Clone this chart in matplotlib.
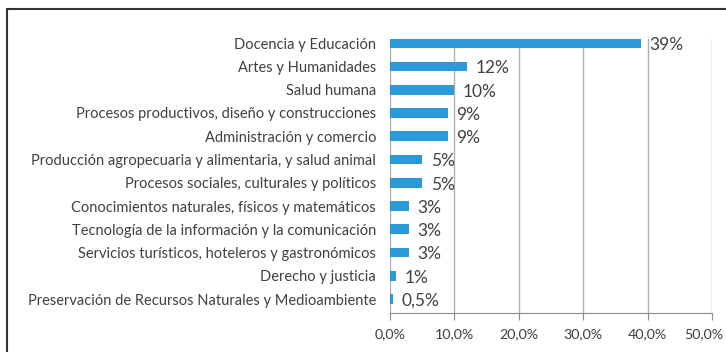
import matplotlib.pyplot as plt
import matplotlib.transforms as mtransforms
from matplotlib.patches import Rectangle

# Areas de conocimiento, de arriba hacia abajo
areas = ['Docencia y Educación',
         'Artes y Humanidades',
         'Salud humana',
         'Procesos productivos, diseño y construcciones',
         'Administración y comercio',
         'Producción agropecuaria y alimentaria, y salud animal',
         'Procesos sociales, culturales y políticos',
         'Conocimientos naturales, físicos y matemáticos',
         'Tecnología de la información y la comunicación',
         'Servicios turísticos, hoteleros y gastronómicos',
         'Derecho y justicia',
         'Preservación de Recursos Naturales y Medioambiente']
porcentajes = [39, 12, 10, 9, 9, 5, 5, 3, 3, 3, 1, 0.5]
etiquetas = ['39%', '12%', '10%', '9%', '9%', '5%', '5%', '3%', '3%', '3%', '1%', '0,5%']
ticks = [0, 10, 20, 30, 40, 50]

plt.rcParams['font.family'] = ['Lato', 'DejaVu Sans']
texto = '#404040'
azul = '#2A9BD8'

fig = plt.figure(figsize=(7.26, 3.52), dpi=100)
ax = fig.add_axes([390/726, 1-313/352, (712-390)/726, (313-39)/352])

pos = list(range(len(areas)))
ax.barh(pos, porcentajes, height=0.42, color=azul, zorder=3)
for p, v, t in zip(pos, porcentajes, etiquetas):
    ax.text(v + 1.3, p + 0.08, t, va='center', ha='left', fontsize=12.5, color=texto)

ax.set_xlim(0, 50)
ax.set_ylim(11.6, -0.18)
ax.set_xticks(ticks)
ax.xaxis.set_major_formatter(plt.FuncFormatter(lambda x, _: ('%.1f%%' % x).replace('.', ',')))
ax.xaxis.set_tick_params(length=5, color='#8c8c8c', pad=6, labelsize=10.3, labelcolor=texto)
ax.set_yticks(pos)
ax.set_yticklabels(areas, fontsize=10.5, color=texto)
ax.yaxis.set_tick_params(length=0, pad=10)

# la ultima etiqueta del eje se corre un poco para que entre en el marco
fig.canvas.draw()
ultima = ax.get_xticklabels()[-1]
ultima.set_transform(ultima.get_transform() + mtransforms.ScaledTranslation(-8/100, 0, fig.dpi_scale_trans))

ax.grid(axis='x', color='#b0b0b0', linewidth=1, zorder=0)
for s in ['top', 'right', 'left']:
    ax.spines[s].set_visible(False)
ax.spines['bottom'].set_color('#8c8c8c')

# marco exterior
fig.patches.append(Rectangle((7/726, -0.1), 1.0, 1 - 9/352 + 0.1, transform=fig.transFigure,
                             fill=False, edgecolor='#333333', linewidth=1.5))

fig.savefig('out.png', dpi=100)
